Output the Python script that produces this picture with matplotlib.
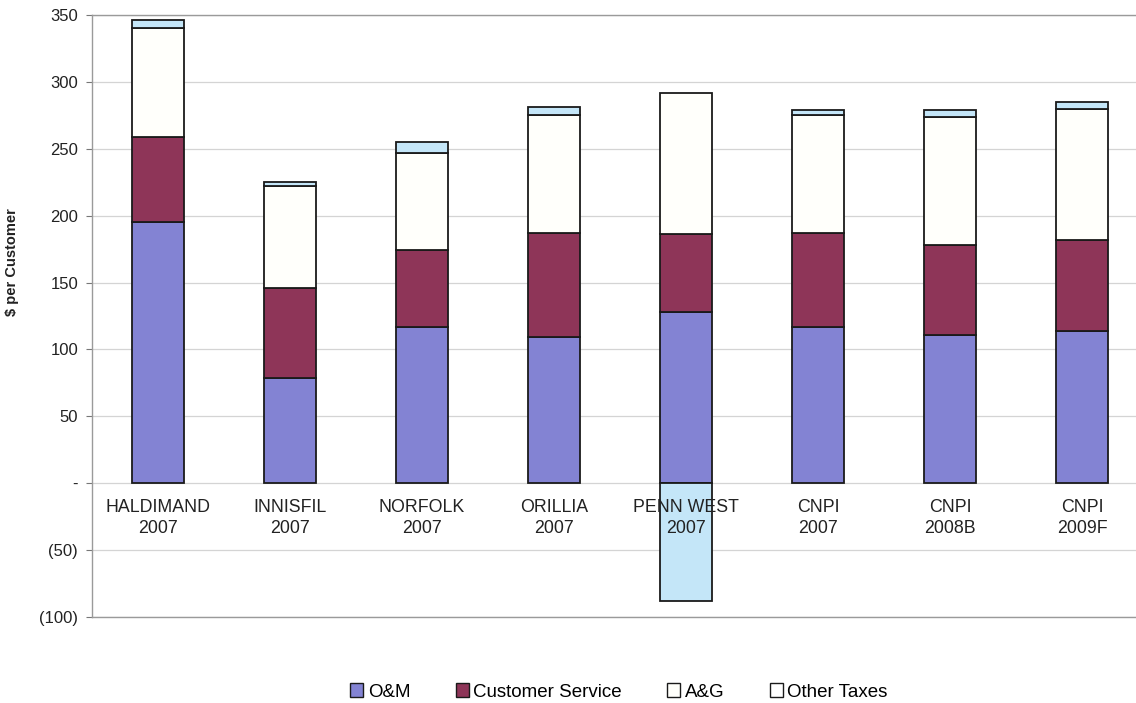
import numpy as np
import matplotlib
matplotlib.use("Agg")
import matplotlib.pyplot as plt
from matplotlib.ticker import FixedLocator

plt.rcParams['font.family'] = ['Liberation Sans', 'DejaVu Sans']

categories = ["HALDIMAND\n2007", "INNISFIL\n2007", "NORFOLK\n2007", "ORILLIA\n2007",
              "PENN WEST\n2007", "CNPI\n2007", "CNPI\n2008B", "CNPI\n2009F"]
om = [195, 79, 117, 109, 128, 117, 111, 114]
customer_service = [64, 67, 57, 78, 58, 70, 67, 68]
admin_general = [81, 76, 73, 88, 106, 88, 96, 98]
other_taxes = [6, 3, 8, 6, -88, 4, 5, 5]

series_names = ["O&M", "Customer Service", "A&G", "Other Taxes"]
series_colors = ["#8383d3", "#8e3558", "#fffffb", "#c4e6f8"]

ytick_values = [-100, -50, 0, 50, 100, 150, 200, 250, 300, 350]
ytick_labels = ["(100)", "(50)", "-", "50", "100", "150", "200", "250", "300", "350"]

fig = plt.figure(figsize=(11.36, 7.03), dpi=100)
ax = fig.add_axes([92 / 1136, 1 - 617 / 703, 1056 / 1136, (617 - 15) / 703])

x = np.arange(len(categories))
pos_base = np.zeros(len(categories))
neg_base = np.zeros(len(categories))
bars = []
for vals, name, col in zip([om, customer_service, admin_general, other_taxes],
                           series_names, series_colors):
    v = np.array(vals, dtype=float)
    bottom = np.where(v >= 0, pos_base, neg_base)
    b = ax.bar(x, v, width=0.4, bottom=bottom, color=col, edgecolor="#1a1a1a",
               linewidth=1.3, label=name, zorder=3)
    bars.append(b)
    pos_base = pos_base + np.where(v >= 0, v, 0)
    neg_base = neg_base + np.where(v < 0, v, 0)

ax.set_xlim(-0.5, 7.5)
ax.set_ylim(-100, 350)
ax.yaxis.set_major_locator(FixedLocator(ytick_values))
ax.set_yticklabels(ytick_labels, fontsize=12, color="#222222")
ax.set_xticks([])
ax.tick_params(axis="y", length=4, color="#777777", pad=6)
ax.grid(axis="y", color="#d4d4d4", linewidth=0.9, zorder=0)

ax.spines["right"].set_visible(False)
for side in ["left", "top", "bottom"]:
    ax.spines[side].set_color("#9a9a9a")
    ax.spines[side].set_linewidth(1.0)

for i, lab in enumerate(categories):
    ax.text(i, -12, lab, ha="center", va="top", fontsize=12.8, color="#222222",
            linespacing=1.25, zorder=4)

fig.text(12 / 1136, 1 - 262 / 703, "$ per Customer", rotation=90, ha="center",
         va="center", fontsize=10.5, fontweight="bold", color="#222222")

leg = fig.legend(handles=bars, labels=series_names, loc="center",
                 bbox_to_anchor=(619 / 1136, 1 - 692 / 703), ncol=4, frameon=False,
                 fontsize=13.5, handlelength=0.7, handleheight=0.7,
                 handletextpad=0.25, columnspacing=2.4)
for h in leg.legend_handles:
    h.set_linewidth(1.0)
leg.legend_handles[3].set_facecolor("white")

fig.savefig("out.png", dpi=100)
